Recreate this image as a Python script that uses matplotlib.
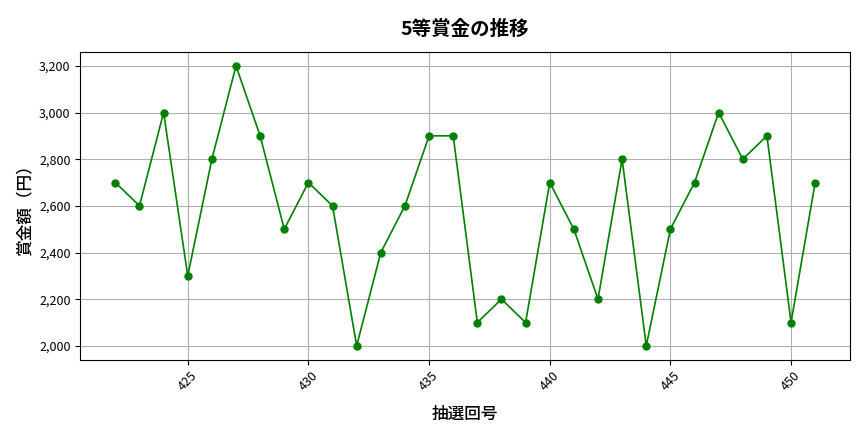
import matplotlib
matplotlib.use('Agg')
from matplotlib import pyplot as plt
from matplotlib.ticker import FuncFormatter

plt.rcParams['font.family'] = ['Noto Sans CJK JP', 'DejaVu Sans']

draws = list(range(422, 452))
prizes = [2700, 2600, 3000, 2300, 2800, 3200, 2900, 2500, 2700, 2600,
          2000, 2400, 2600, 2900, 2900, 2100, 2200, 2100, 2700, 2500,
          2200, 2800, 2000, 2500, 2700, 3000, 2800, 2900, 2100, 2700]

fig, ax = plt.subplots(figsize=(8.64, 4.32), dpi=100)
ax.plot(draws, prizes, marker='o', color='green', markersize=5, linewidth=1.2)
ax.set_title('5等賞金の推移', fontsize=14, fontweight='bold', pad=12)
ax.set_xlabel('抽選回号', fontsize=12, fontweight='medium', labelpad=8)
ax.set_ylabel('賞金額（円）', fontsize=12, fontweight='medium')
ax.yaxis.set_major_formatter(FuncFormatter(lambda v, p: '{:,.0f}'.format(v)))
ax.grid(True, color='#b0b0b0', linewidth=0.8)
plt.setp(ax.get_xticklabels(), rotation=45)
ax.tick_params(labelsize=9)
fig.subplots_adjust(left=0.093, right=0.984, top=0.88, bottom=0.167)
plt.savefig('out.png')
